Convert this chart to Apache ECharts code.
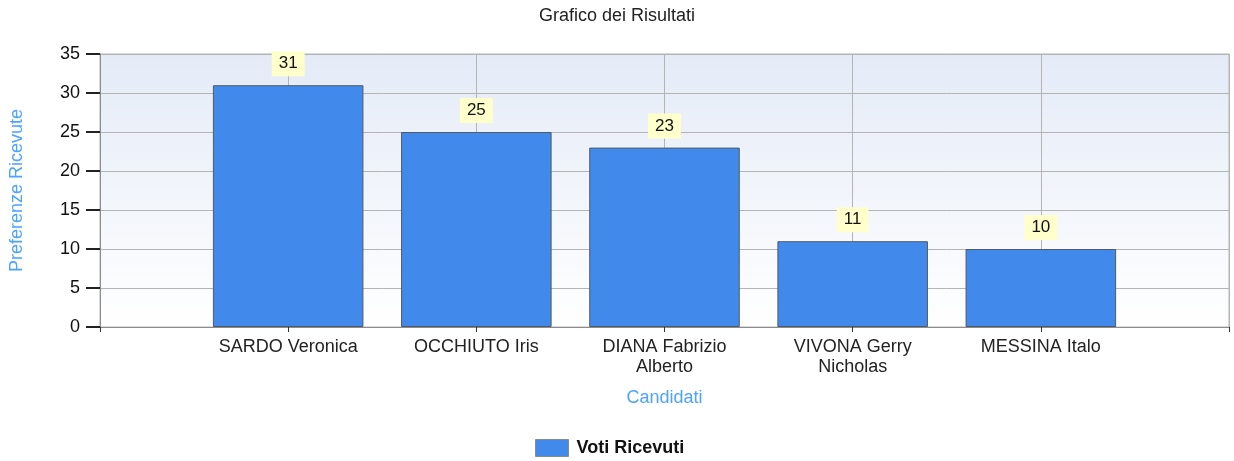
<!DOCTYPE html>
<html>
<head>
<meta charset="utf-8">
<script src="https://cdn.jsdelivr.net/npm/echarts@6/dist/echarts.min.js"></script>
<style>html,body{margin:0;padding:0;background:#fff}#c{width:1234px;height:461px}</style>
</head>
<body>
<div id="c"></div>
<script>
var titleText = 'Grafico dei Risultati';
var candidates = ['SARDO Veronica', 'OCCHIUTO Iris', 'DIANA Fabrizio Alberto', 'VIVONA Gerry Nicholas', 'MESSINA Italo'];
var votes = [31, 25, 23, 11, 10];
var seriesName = 'Voti Ricevuti';
var yAxisName = 'Preferenze Ricevute';
var xAxisName = 'Candidati';
var yTicks = [0, 5, 10, 15, 20, 25, 30, 35];

// pad with empty slots on both sides (axis spans 0..6)
var cats = [''].concat(candidates).concat(['']);
var vals = ['-'].concat(votes).concat(['-']);

function wrapLabel(s) {
  var w = s.split(' ');
  if (s.length > 16 && w.length > 2) return w.slice(0, 2).join(' ') + '\n' + w.slice(2).join(' ');
  return s;
}

var FONT = 'Liberation Sans, Arial, sans-serif';
var chart = echarts.init(document.getElementById('c'), null, {renderer: 'canvas'});
chart.setOption({
  animation: false,
  textStyle: {fontFamily: FONT},
  title: {
    text: titleText, left: 'center', top: 2,
    textStyle: {fontSize: 18, fontWeight: 'normal', color: '#222', fontFamily: FONT}
  },
  legend: {
    top: 434, left: 530, icon: 'rect', itemWidth: 33, itemHeight: 17, itemGap: 10,
    data: [{name: seriesName, itemStyle: {borderColor: '#8a8a8a', borderWidth: 1}}],
    textStyle: {fontSize: 18, fontWeight: 'bold', color: '#111', fontFamily: FONT, padding: [0, 0, 0, 3]}
  },
  grid: {
    left: 100, right: 5, top: 54, bottom: 134, show: true,
    outerBoundsMode: 'none', containLabel: false,
    borderColor: '#b4b4b4', borderWidth: 1,
    backgroundColor: {type: 'linear', x: 0, y: 0, x2: 0, y2: 1,
      colorStops: [{offset: 0, color: '#e4ebf7'}, {offset: 1, color: '#ffffff'}]}
  },
  xAxis: {
    type: 'category', data: cats, boundaryGap: false,
    name: xAxisName, nameLocation: 'middle', nameGap: 62,
    nameTextStyle: {color: '#4da3ff', fontSize: 18, fontFamily: FONT},
    axisLine: {lineStyle: {color: '#8c8c8c', width: 1}},
    axisTick: {show: true, length: 5, lineStyle: {color: '#333'}},
    axisLabel: {fontSize: 18, color: '#222', margin: 10, lineHeight: 20, fontFamily: FONT,
      formatter: function (v) { return wrapLabel(v); }},
    splitLine: {show: true, lineStyle: {color: '#b4b4b4', width: 1}}
  },
  yAxis: {
    type: 'value', min: yTicks[0], max: yTicks[yTicks.length - 1], interval: yTicks[1] - yTicks[0],
    name: yAxisName, nameLocation: 'middle', nameGap: 74,
    nameTextStyle: {color: '#4da3ff', fontSize: 18, fontFamily: FONT},
    axisLine: {show: true, lineStyle: {color: '#8c8c8c', width: 1}},
    axisTick: {show: true, length: 14, lineStyle: {color: '#222', width: 2}},
    axisLabel: {fontSize: 18, color: '#111', margin: 20, fontFamily: FONT},
    splitLine: {show: true, lineStyle: {color: '#b4b4b4', width: 1}}
  },
  series: [{
    name: seriesName, type: 'bar', data: vals, barWidth: '80%',
    itemStyle: {color: '#418aec', borderColor: '#505a66', borderWidth: 1},
    label: {
      show: true, position: 'top', distance: 9,
      backgroundColor: '#ffffcc', padding: [4, 7, 4, 7],
      fontSize: 17, color: '#111', fontFamily: FONT
    }
  }]
});
</script>
</body>
</html>
